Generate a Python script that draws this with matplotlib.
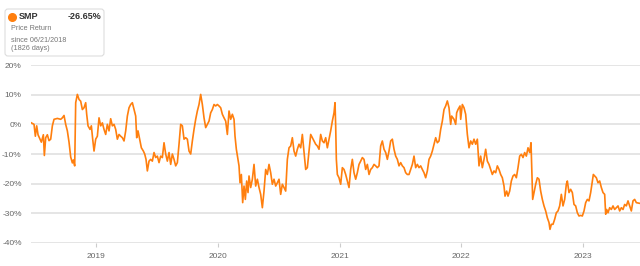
import numpy as np
import pandas as pd
import matplotlib
matplotlib.use("Agg")
import matplotlib.pyplot as plt
from matplotlib.patches import FancyBboxPatch

plt.rcParams["font.family"] = ["Liberation Sans", "DejaVu Sans"]

# ---- data: price return of SMP since 06/21/2018 (days since start, %) ----
start = pd.Timestamp("2018-06-21")
days = [
    0, 8, 12, 16, 20, 26, 30, 36, 39, 43, 48, 53, 58, 63, 68, 78, 88, 93, 98, 103,
    108, 113, 118, 123, 126, 130, 133, 138, 143, 148, 153, 158, 163, 166, 170, 176, 180, 184, 188, 193,
    198, 203, 208, 213, 218, 223, 228, 233, 238, 243, 248, 253, 258, 263, 268, 273, 278, 283, 288, 293,
    298, 303, 308, 313, 316, 320, 326, 330, 336, 340, 344, 348, 353, 358, 363, 368, 373, 378, 383, 388,
    393, 398, 403, 408, 413, 418, 423, 428, 433, 438, 443, 448, 453, 458, 463, 468, 473, 478, 483, 488,
    493, 498, 503, 508, 513, 518, 523, 528, 533, 538, 543, 548, 553, 558, 563, 568, 573, 578, 583, 588,
    593, 598, 603, 608, 611, 615, 620, 623, 626, 630, 634, 638, 642, 646, 650, 653, 658, 663, 668, 673,
    678, 683, 688, 693, 698, 703, 708, 713, 718, 723, 728, 733, 738, 743, 748, 753, 758, 763, 768, 773,
    778, 783, 788, 793, 798, 803, 808, 813, 818, 823, 828, 833, 838, 843, 848, 853, 858, 863, 868, 873,
    878, 883, 888, 893, 898, 903, 908, 911, 913, 915, 918, 923, 928, 933, 938, 943, 948, 953, 958, 963,
    968, 973, 978, 983, 988, 993, 998, 1003, 1008, 1013, 1018, 1023, 1028, 1033, 1038, 1043, 1048, 1053, 1058, 1063,
    1068, 1073, 1078, 1083, 1088, 1093, 1098, 1103, 1108, 1113, 1118, 1123, 1128, 1133, 1138, 1143, 1148, 1153, 1158, 1163,
    1168, 1173, 1178, 1183, 1188, 1193, 1198, 1203, 1208, 1213, 1218, 1223, 1228, 1233, 1238, 1243, 1248, 1253, 1258, 1261,
    1265, 1268, 1273, 1276, 1280, 1286, 1288, 1293, 1298, 1303, 1308, 1313, 1318, 1323, 1328, 1333, 1338, 1343, 1348, 1353,
    1358, 1363, 1368, 1373, 1378, 1383, 1388, 1393, 1398, 1403, 1408, 1413, 1418, 1421, 1426, 1430, 1435, 1440, 1445, 1450,
    1455, 1460, 1465, 1470, 1475, 1480, 1485, 1490, 1495, 1499, 1501, 1504, 1508, 1513, 1518, 1523, 1528, 1533, 1538, 1543,
    1548, 1553, 1556, 1560, 1565, 1570, 1575, 1580, 1585, 1590, 1595, 1600, 1605, 1608, 1613, 1618, 1623, 1628, 1633, 1638,
    1643, 1648, 1653, 1658, 1663, 1668, 1673, 1678, 1683, 1686, 1690, 1695, 1700, 1705, 1710, 1715, 1720, 1723, 1726, 1730,
    1735, 1740, 1745, 1750, 1755, 1760, 1765, 1770, 1775, 1780, 1785, 1790, 1795, 1800, 1805, 1810, 1815, 1826,
]
returns = [
    0.5, 0, -4, -0.5, -3.5, -5, -6, -3.5, -10.5, -4.5, -3.5, -5.5, -5, -0.5, 1.7, 2, 1.7, 2.2, 3, 0,
    -2.2, -6, -11, -13, -12, -14, 7.3, 10.1, 8.4, 7.8, 5, 5.6, 7.3, 3.4, -0.5, -1.7, -0.5, -5, -9, -5,
    -4, 2.2, -0.5, 0.5, -1.7, -3.4, 0, -2.2, 1.9, -0.5, 0, -1.7, -5, -3.4, -4, -4.5, -5.6, -2.2, 2.8, 5.6,
    6.7, 7.3, 5, 2.8, -4.5, -2.2, -5.6, -7.9, -9, -10, -11.8, -15.7, -12.4, -11.8, -12.4, -9.5, -11.2, -10.7, -12.9, -10.7,
    -11.2, -6.2, -10, -12.4, -9.5, -13.5, -10, -11.8, -14, -12.9, -6.7, 0, -0.5, -5, -4.5, -5, -9, -10, -5.6, -1.7,
    1.7, 4.5, 6.7, 10.1, 6.7, 2.2, -1.1, 0, 1.1, 3.9, 5, 6.7, 6.2, 6.7, 6.2, 5.6, 3.4, 2.2, 1.1, -3.4,
    4.5, 1.7, 3.4, 1.7, -4, -8.4, -11.8, -14, -19.7, -16.9, -26.4, -20.8, -25.3, -19.1, -23, -17.4, -21.3, -18.5, -13.5, -20.8,
    -18.5, -21.3, -23.6, -28.1, -22.5, -15.2, -16.9, -13.5, -16.3, -20.2, -18.5, -20.8, -19.7, -18.5, -23.6, -20.2, -21.3, -22.5, -11.8, -7.9,
    -7.3, -4.5, -9, -10.7, -8.4, -6.7, -7.9, -3.4, -9.5, -15.2, -14.6, -9, -3.4, -4.5, -5.6, -6.7, -7.3, -8.4, -3.4, -5.6,
    -6.2, -4.5, -7.9, -5, -2.2, 1.1, 3.9, 7.3, -0.5, -11.8, -16.9, -18, -20.2, -14.6, -15.2, -16.9, -19.1, -21.3, -15.2, -11.8,
    -16.3, -18.5, -16.3, -13.5, -12.4, -11.2, -11.8, -15.2, -13.5, -16.9, -15.2, -14.6, -13.5, -14, -14.6, -14, -7.3, -5.6, -8.4, -9.5,
    -11.8, -9, -5.6, -5, -8.4, -10.7, -11.8, -14, -12.9, -14, -14.6, -16.3, -16.9, -16.9, -15.2, -13.5, -10.7, -14.6, -13.5, -14.6,
    -14, -15.2, -16.3, -18, -15.7, -11.8, -10.7, -9, -6.7, -4.5, -6.2, -5.6, -1.7, 1.1, 5, 6.2, 7.9, 5.6, 0, 2.8,
    2.2, 1.7, 0, 3.9, 5, 6.2, 1.7, 6.7, 5.6, 3.4, -3.4, -7.9, -5.6, -6.7, -5, -6.7, -5, -14, -10.7, -14.6,
    -11.8, -8.4, -12.4, -13.5, -15.2, -16.9, -15.7, -16.3, -14, -15.2, -16.9, -18, -20.8, -24.2, -22.5, -24.2, -22.5, -19.1, -17.4, -16.9,
    -18, -14.6, -10.7, -10.1, -11.2, -9.5, -10.7, -7.9, -9.5, -6.2, -14, -25.3, -23, -20.2, -18, -18.5, -22.5, -25.3, -27.5, -29.2,
    -31.5, -33.1, -35.4, -33.7, -33.7, -32, -29.8, -29.2, -27.5, -23.6, -27.5, -25.3, -20.2, -19.1, -23, -21.9, -23, -27, -27.5, -29.8,
    -30.9, -30.7, -30.9, -29.2, -26.4, -25.3, -25.8, -23, -19.1, -16.9, -17.4, -18, -19.7, -19.1, -21.3, -23, -23.6, -30.3, -28.7, -29.8,
    -28.1, -28.7, -27.5, -28.7, -28.1, -27.5, -29.2, -28.1, -28.7, -27, -27.5, -25.8, -27.5, -29.2, -25.8, -25.3, -26.4, -26.65,
]
yticks = [20, 10, 0, -10, -20, -30, -40]
years = ["2019", "2020", "2021", "2022", "2023"]

dates = start + pd.to_timedelta(days, unit="D")
ORANGE = "#ff7f0e"
GRID = "#e3e3e3"
TXT = "#666666"

fig = plt.figure(figsize=(6.4, 2.66), dpi=100)
ax = fig.add_axes([0.049, 0.0865, 0.951, 0.669])
ax.plot(dates, returns, color=ORANGE, lw=1.2, solid_joinstyle="round")

ax.set_xlim(start, start + pd.Timedelta(days=1826))
ax.set_ylim(-40, 20)
ax.set_yticks(yticks)
ax.set_yticklabels([f"{v}%" for v in yticks])
ax.yaxis.grid(True, color=GRID, lw=1.3)
ax.set_axisbelow(True)
ax.set_xticks([pd.Timestamp(f"{y}-01-01") for y in years])
ax.set_xticklabels(years)
for s in ax.spines.values():
    s.set_visible(False)
ax.tick_params(axis="y", length=0, pad=7, labelsize=6, labelcolor=TXT)
ax.tick_params(axis="x", length=3, color="#cccccc", pad=4, labelsize=6, labelcolor=TXT)

# ---- legend box (pixel coords, origin bottom-left) ----
box = FancyBboxPatch((5, 266 - 56), 99, 47, boxstyle="round,pad=0,rounding_size=3",
                     transform=None, fc="white", ec="#dddddd", lw=0.8)
fig.patches.append(box)

def ftxt(x, y, s, **kw):
    fig.text(x / 640, 1 - y / 266, s, va="center", **kw)

fig.add_artist(plt.Line2D([12 / 640], [1 - 16.5 / 266], marker="o", ms=5.5,
                          color=ORANGE, transform=fig.transFigure))
ftxt(19, 16.5, "SMP", fontsize=6.5, fontweight="bold", color="#333333")
ftxt(101, 16.5, "-26.65%", fontsize=6.5, fontweight="bold", color="#333333", ha="right")
ftxt(11, 29, "Price Return", fontsize=5.2, color="#777777")
ftxt(11, 40, "since 06/21/2018", fontsize=5.2, color="#777777")
ftxt(11, 48.5, "(1826 days)", fontsize=5.2, color="#777777")

fig.savefig("out.png", dpi=100)
